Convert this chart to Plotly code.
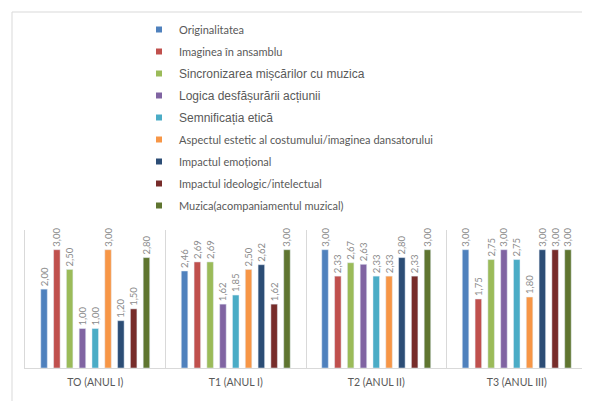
import plotly.graph_objects as go

categories = ["TO (ANUL I)", "T1 (ANUL I)", "T2 (ANUL II)", "T3 (ANUL III)"]

series_names = [
    "Originalitatea",
    "Imaginea în ansamblu",
    "Sincronizarea mișcărilor cu muzica",
    "Logica desfășurării acțiunii",
    "Semnificația etică",
    "Aspectul estetic al costumului/imaginea dansatorului",
    "Impactul emoțional",
    "Impactul ideologic/intelectual",
    "Muzica(acompaniamentul muzical)",
]

originalitatea = [2.00, 2.46, 3.00, 3.00]
imaginea = [3.00, 2.69, 2.33, 1.75]
sincronizarea = [2.50, 2.69, 2.67, 2.75]
logica = [1.00, 1.62, 2.63, 3.00]
semnificatia = [1.00, 1.85, 2.33, 2.75]
aspectul = [3.00, 2.50, 2.33, 1.80]
impactul_emotional = [1.20, 2.62, 2.80, 3.00]
impactul_ideologic = [1.50, 1.62, 2.33, 3.00]
muzica = [2.80, 3.00, 3.00, 3.00]

series_values = [originalitatea, imaginea, sincronizarea, logica, semnificatia,
                 aspectul, impactul_emotional, impactul_ideologic, muzica]

colors = ["#4F81BD", "#C0504D", "#9BBB59", "#8064A2", "#4BACC6",
          "#F79646", "#2C4D75", "#772C2A", "#5F7530"]

arial_items = {2, 3, 4}

fig = go.Figure()
for i, (name, vals, col) in enumerate(zip(series_names, series_values, colors)):
    labels = [f"{v:.2f}".replace(".", ",") for v in vals]
    fig.add_trace(go.Bar(
        x=categories, y=vals, name=name, marker_color=col,
        text=labels, textposition="outside", textangle=-90,
        textfont=dict(family="Lato", size=9.5, color="#8C8C8C"),
        constraintext="none", cliponaxis=False,
        legendgroup=f"g{i}", showlegend=False,
    ))
    if i in arial_items:
        legend_name = f"<span style='font-family:Liberation Sans;font-size:12px'>{name}</span>"
    else:
        legend_name = name
    fig.add_trace(go.Scatter(
        x=[None], y=[None], mode="markers", name=legend_name,
        marker=dict(symbol="square", size=6, color=col),
        legendgroup=f"g{i}", showlegend=True,
    ))

# the page body adds an 8px offset; lay out in reference pixels minus that offset
OFF = 8
W, H = 590 - OFF, 401 - OFF
ml, mr, mt, mb = 25 - OFF, 3, 2, 33
pw, ph = W - ml - mr, H - mt - mb
plot_top = 230 - OFF
bar_h = (H - mb) - plot_top

def px(xr):
    return (xr - OFF - ml) / pw

def py(yr):
    return (H - mb - (yr - OFF)) / ph

frame_color = "#D9D9D9"
fig.update_layout(
    width=W, height=H,
    margin=dict(l=ml, r=mr, t=mt, b=mb, pad=0),
    paper_bgcolor="white", plot_bgcolor="white",
    barmode="group", bargap=0.18, bargroupgap=0.49,
    font=dict(family="Lato", size=11, color="#595959"),
    legend=dict(
        x=px(139), y=py(15), xanchor="left", yanchor="top",
        orientation="v", tracegroupgap=3, traceorder="grouped",
        font=dict(family="Lato", size=11, color="#595959"),
        bgcolor="rgba(0,0,0,0)",
    ),
    xaxis=dict(
        showgrid=True, gridcolor=frame_color, gridwidth=1,
        tickson="boundaries", ticks="", showline=True, linecolor=frame_color,
        tickfont=dict(family="Lato", size=10.5, color="#595959"),
        tickangle=0, ticklabelstandoff=4, fixedrange=True,
    ),
    yaxis=dict(
        domain=[0, bar_h / ph],
        range=[0, 3.5], showgrid=False, zeroline=False, showticklabels=False,
        showline=True, linecolor=frame_color, ticks="", fixedrange=True,
    ),
    shapes=[
        dict(type="line", xref="paper", yref="paper",
             x0=px(12), x1=px(600), y0=py(12), y1=py(12),
             line=dict(color=frame_color, width=1)),
        dict(type="line", xref="paper", yref="paper",
             x0=px(12), x1=px(12), y0=py(12), y1=py(410),
             line=dict(color=frame_color, width=1)),
    ],
)

fig.write_html("out.html")
